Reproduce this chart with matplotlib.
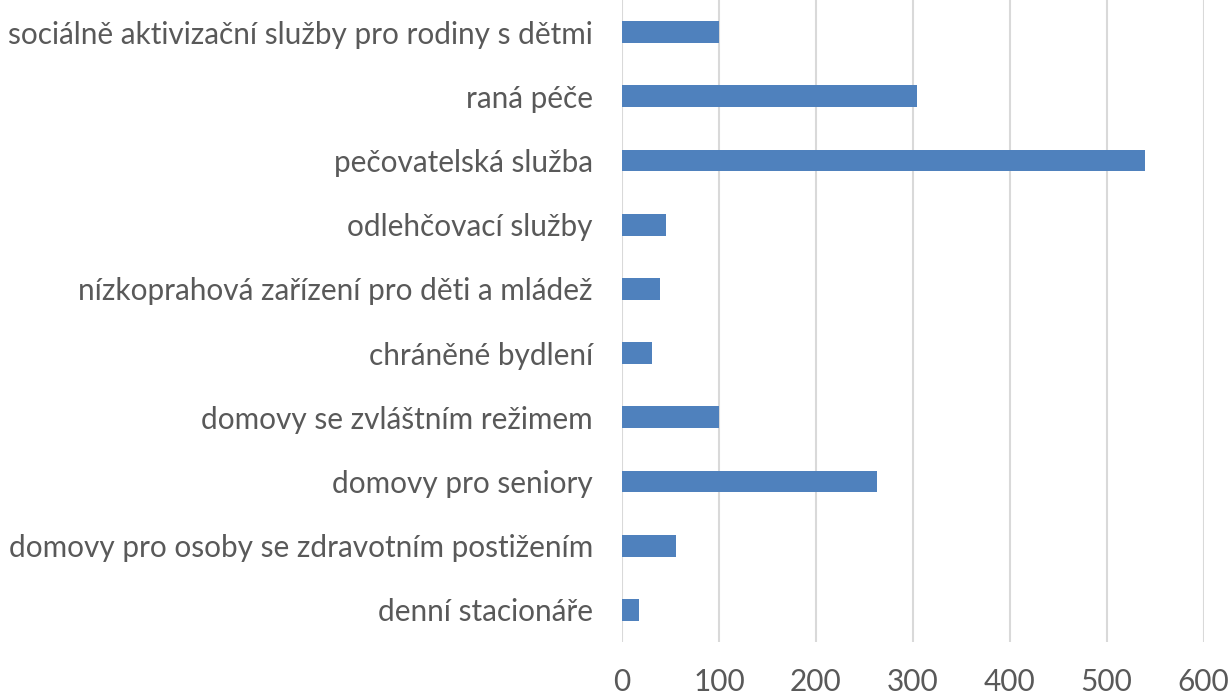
import matplotlib
matplotlib.use("Agg")
import matplotlib.pyplot as plt

# Categories listed bottom to top (as they appear on the y axis)
categories = [
    "denní stacionáře",
    "domovy pro osoby se zdravotním postižením",
    "domovy pro seniory",
    "domovy se zvláštním režimem",
    "chráněné bydlení",
    "nízkoprahová zařízení pro děti a mládež",
    "odlehčovací služby",
    "pečovatelská služba",
    "raná péče",
    "sociálně aktivizační služby pro rodiny s dětmi",
]
values = [17, 56, 263, 100, 31, 39, 45, 539, 304, 100]
x_ticks = [0, 100, 200, 300, 400, 500, 600]

plt.rcParams["font.family"] = ["Lato", "DejaVu Sans"]

fig = plt.figure(figsize=(12.32, 6.97), dpi=100)
ax = fig.add_axes([0.5049, 0.0789, 0.977 - 0.5049, 1.0 - 0.0789])

y = range(len(categories))
ax.barh(y, values, height=0.34, color="#4F81BD", zorder=3)

ax.set_xlim(0, 600)
ax.set_ylim(-0.5, len(categories) - 0.5)
ax.set_xticks(x_ticks)
ax.set_yticks(list(y))
ax.set_yticklabels(categories)

ax.grid(axis="x", color="#D9D9D9", linewidth=1.5, zorder=0)
ax.grid(axis="y", visible=False)
for s in ax.spines.values():
    s.set_visible(False)

ax.tick_params(axis="y", length=0, pad=21, labelsize=21.4, labelcolor="#595959")
ax.tick_params(axis="x", length=0, pad=19, labelsize=21.4, labelcolor="#595959")

fig.savefig("out.png", dpi=100)
